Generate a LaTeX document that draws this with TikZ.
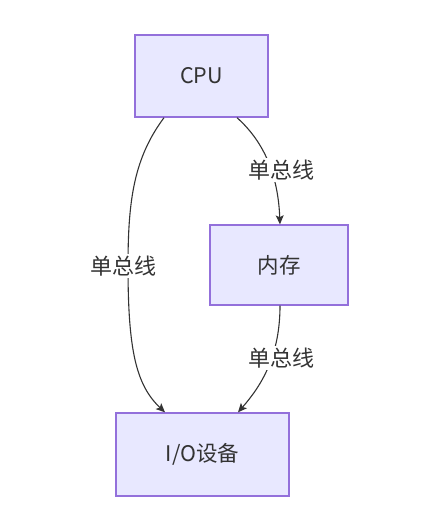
\documentclass[tikz,border=0pt]{standalone}
\usepackage{fontspec}
\setmainfont{Noto Sans CJK SC}
\usetikzlibrary{arrows.meta,calc}
\definecolor{boxfill}{HTML}{E8E8FF}
\definecolor{boxline}{HTML}{9370DB}
\definecolor{ink}{HTML}{333333}
\tikzset{
  box/.style={draw=boxline, line width=1.4pt, fill=boxfill, inner sep=0pt},
  boxtext/.style={font=\fontsize{21.5}{25}\selectfont, text=ink},
  edge/.style={draw=ink, line width=1.1pt, -{Stealth[length=9pt,width=8pt,inset=2pt]}},
  elabel/.style={fill=white, inner sep=2pt, font=\fontsize{22}{26}\selectfont, text=ink}
}
\newcommand{\hatchbox}[1]{%
  \begin{scope}
    \clip (#1.south west) rectangle (#1.north east);
    \foreach \k in {-200,-192,...,200}
      \draw[white, line width=1.2pt, opacity=0.85] ($(#1.south west)+(\k pt,0)$) -- ++(120pt,-120pt);
  \end{scope}
  \draw[boxline, line width=1.4pt] (#1.south west) rectangle (#1.north east);
}
\begin{document}
\begin{tikzpicture}[x=1pt,y=-1pt]
\useasboundingbox (0,0) rectangle (429,532);
\node[box, minimum width=133pt, minimum height=82pt] (cpu) at (201.5,76) {};
\node[box, minimum width=138pt, minimum height=80pt] (mem) at (279,265) {};
\node[box, minimum width=173pt, minimum height=83pt] (io) at (202.5,454.5) {};
\hatchbox{cpu}
\hatchbox{mem}
\hatchbox{io}
\node[boxtext] (cput) at (cpu.center) {CPU};
\node[boxtext] (memt) at (mem.center) {内存};
\node[boxtext] (iot) at (io.center) {I/O设备};
\coordinate (c1) at ([xshift=-37.5pt]cpu.south);
\coordinate (c2) at ([xshift=35.5pt]cpu.south);
\coordinate (i1) at ([xshift=-37.5pt]io.north);
\coordinate (i2) at ([xshift=35.5pt]io.north);
\coordinate (mt) at ([xshift=1pt]mem.north);
\coordinate (mb) at ([xshift=1pt]mem.south);
\path[edge] (c1) .. controls (134,158) and (128,200) .. (128,266)
  .. controls (128,350) and (136,385) .. (i1);
\path[edge] (c2) .. controls (262,140) and (278,172) .. (mt);
\path[edge] (mb) .. controls (280,355) and (262,385) .. (i2);
\node[elabel] (l1) at (123,266) {单总线};
\node[elabel] (l2) at (281,170) {单总线};
\node[elabel] (l3) at (281,358) {单总线};
\end{tikzpicture}
\end{document}
